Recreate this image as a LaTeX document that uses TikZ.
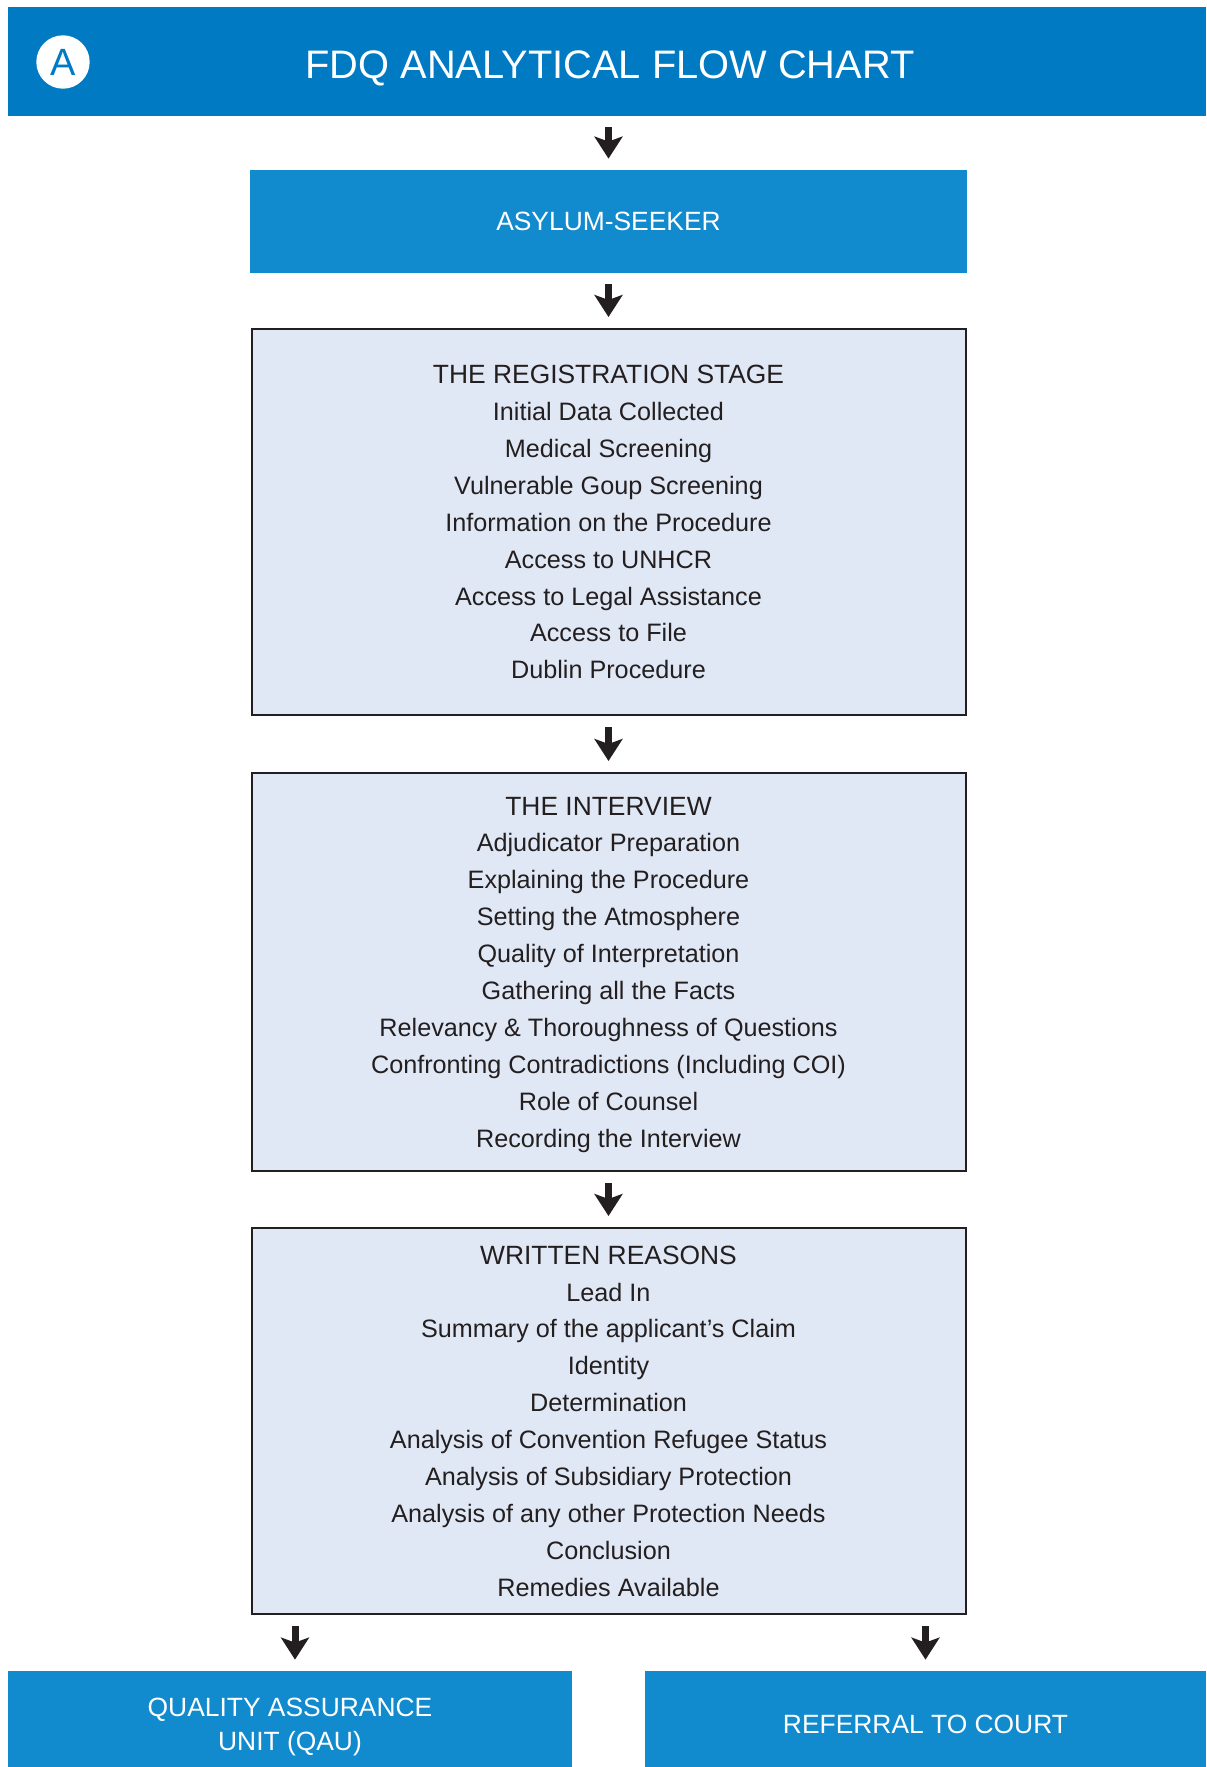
\documentclass[tikz,border=0pt]{standalone}
\usepackage{fontspec}
\setmainfont{Liberation Sans}
\usetikzlibrary{arrows.meta}

\definecolor{headerblue}{RGB}{0,122,194}
\definecolor{boxblue}{RGB}{17,139,206}
\definecolor{stagefill}{RGB}{225,232,245}
\definecolor{inkgray}{RGB}{35,31,32}

\tikzset{
  bluebox/.style={fill=boxblue, text=white, align=center, inner sep=0pt,
    font=\fontsize{13.2}{16.9}\selectfont},
  stagebox/.style={draw=inkgray, line width=1pt, fill=stagefill, text=inkgray,
    align=center, inner sep=0pt, minimum width=357pt, text depth=-3pt,
    font=\fontsize{12.6}{18.45}\selectfont},
  flowarrow/.style={draw=inkgray, line width=3.5pt,
    -{Stealth[length=11pt,width=14pt,inset=2.5pt]},
    shorten <=5.5pt, shorten >=5.5pt}
}
\newcommand{\stagetitle}[1]{{\fontsize{13.2}{18.45}\selectfont #1}}

\begin{document}
\begin{tikzpicture}[x=0.5pt,y=0.5pt,yscale=-1,xscale=1]
\useasboundingbox (0,0) rectangle (1206,1767);

% Header
\node [fill=headerblue, minimum width=599pt, minimum height=54.5pt, inner sep=0pt] (header) at (607,61.5) {};
\node [text=white, font=\fontsize{19.9}{24}\selectfont] (title) at (610,68) {FDQ ANALYTICAL FLOW CHART};
\node [circle, fill=white, minimum size=26.7pt, inner sep=0pt, text=headerblue,
  font=\fontsize{19}{24}\selectfont] (badge) at (63,62) {A};

% Blue boxes
\node [bluebox, minimum width=358.5pt, minimum height=51.5pt] (seeker) at (608.5,221.5) {ASYLUM-SEEKER};
\node [bluebox, minimum width=282pt, minimum height=53.5pt, text depth=0pt] (qau) at (290,1724.5) {QUALITY ASSURANCE\\UNIT (QAU)};
\node [bluebox, minimum width=280.5pt, minimum height=53.5pt] (court) at (925.5,1724.5) {REFERRAL TO COURT};
\coordinate (qauin) at ([xshift=2.5pt]qau.north);

% Stage boxes
\node [stagebox, minimum height=193pt] (reg) at (608.5,522) {\stagetitle{THE REGISTRATION STAGE}\\
  Initial Data Collected\\
  Medical Screening\\
  Vulnerable Goup Screening\\
  Information on the Procedure\\
  Access to UNHCR\\
  Access to Legal Assistance\\
  Access to File\\
  Dublin Procedure};

\node [stagebox, minimum height=199pt] (interview) at (608.5,972) {\stagetitle{THE INTERVIEW}\\
  Adjudicator Preparation\\
  Explaining the Procedure\\
  Setting the Atmosphere\\
  Quality of Interpretation\\
  Gathering all the Facts\\
  Relevancy \& Thoroughness of Questions\\
  Confronting Contradictions (Including COI)\\
  Role of Counsel\\
  Recording the Interview};

\node [stagebox, minimum height=193pt] (reasons) at (608.5,1421) {\stagetitle{WRITTEN REASONS}\\
  Lead In\\
  Summary of the applicant’s Claim\\
  Identity\\
  Determination\\
  Analysis of Convention Refugee Status\\
  Analysis of Subsidiary Protection\\
  Analysis of any other Protection Needs\\
  Conclusion\\
  Remedies Available};

% Arrows
\draw [flowarrow] (header.south -| seeker.north) -- (seeker.north);
\draw [flowarrow] (seeker.south) -- (reg.north);
\draw [flowarrow] (reg.south) -- (interview.north);
\draw [flowarrow] (interview.south) -- (reasons.north);
\draw [flowarrow] (reasons.south -| qauin) -- (qauin);
\draw [flowarrow] (reasons.south -| court.north) -- (court.north);

\end{tikzpicture}
\end{document}
